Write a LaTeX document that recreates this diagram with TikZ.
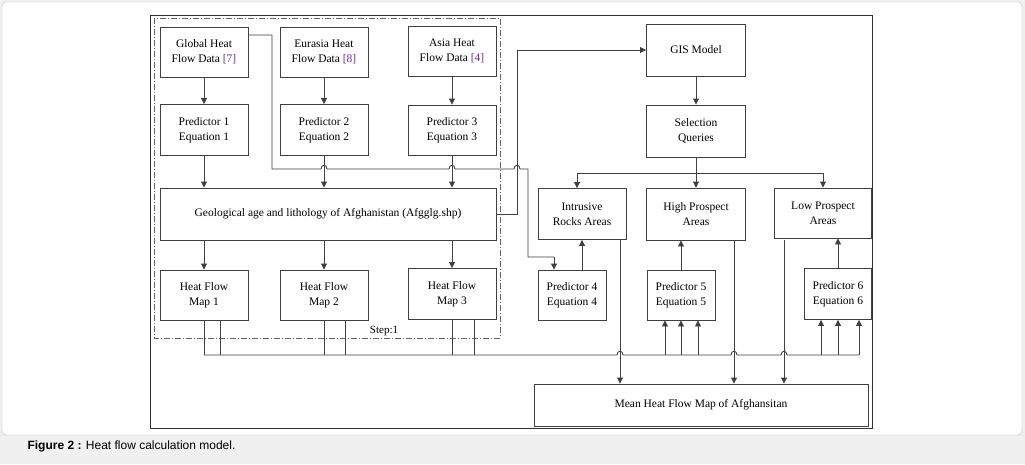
\documentclass[tikz,border=0pt]{standalone}
\usepackage{fontspec}
\setmainfont{Liberation Serif}
\newfontfamily\capfont{Liberation Sans}
\usetikzlibrary{arrows.meta}
\definecolor{refcol}{RGB}{110,40,150}
\tikzset{
  box/.style={draw=black!75, line width=0.9pt, align=center, inner sep=1pt,
    font=\fontsize{11.5}{15}\selectfont},
  line/.style={draw=black!75, line width=0.9pt},
  arr/.style={line, -{Triangle[length=6pt,width=6pt]}}
}
\begin{document}
\begin{tikzpicture}[x=1pt,y=-1pt]
  \useasboundingbox (0,0) rectangle (1025,464);
  \fill[black!6] (0,0) rectangle (1025,464);
  \draw[black!25, fill=white, rounded corners=4pt] (2,2) rectangle (1022,435);
  \draw[black!80, line width=0.8pt] (150,15) rectangle (872,428);
  \draw[black!60, line width=0.7pt, dash pattern=on 6pt off 2pt on 1pt off 2pt] (154,18) rectangle (500,338);
  \node[font=\fontsize{11}{13}\selectfont] (step) at (384,331) {Step:1};
  \node[anchor=west, font=\capfont\fontsize{12}{14}\selectfont] (cap) at (24,446) {\textbf{Figure 2 :} Heat flow calculation model.};
  % step 1 boxes
  \node[box, minimum width=88, minimum height=50] (glob) at (204,52) {Global Heat\\Flow Data {\color{refcol}[7]}};
  \node[box, minimum width=88, minimum height=50] (eur) at (324,52) {Eurasia Heat\\Flow Data {\color{refcol}[8]}};
  \node[box, minimum width=88, minimum height=50] (asia) at (452,51) {Asia Heat\\Flow Data {\color{refcol}[4]}};
  \node[box, minimum width=88, minimum height=51] (p1) at (204,130) {Predictor 1\\Equation 1};
  \node[box, minimum width=88, minimum height=51] (p2) at (324,130) {Predictor 2\\Equation 2};
  \node[box, minimum width=88, minimum height=50] (p3) at (452,130) {Predictor 3\\Equation 3};
  \node[box, minimum width=336, minimum height=52] (geo) at (328,214) {Geological age and lithology of Afghanistan (Afgglg.shp)};
  \node[box, minimum width=88, minimum height=50] (m1) at (204,295) {Heat Flow\\Map 1};
  \node[box, minimum width=88, minimum height=50] (m2) at (324,295) {Heat Flow\\Map 2};
  \node[box, minimum width=88, minimum height=51] (m3) at (452,294) {Heat Flow\\Map 3};
  % right side
  \node[box, minimum width=99, minimum height=52] (gis) at (696,50) {GIS Model};
  \node[box, minimum width=99, minimum height=52] (sel) at (696,131) {Selection\\Queries};
  \node[box, minimum width=88, minimum height=51] (intr) at (582,214) {Intrusive\\Rocks Areas};
  \node[box, minimum width=99, minimum height=52] (high) at (696,214) {High Prospect\\Areas};
  \node[box, minimum width=97, minimum height=50] (low) at (823,213) {Low Prospect\\Areas};
  \node[box, minimum width=68, minimum height=50] (p4) at (572,295) {Predictor 4\\Equation 4};
  \node[box, minimum width=68, minimum height=50] (p5) at (681,295) {Predictor 5\\Equation 5};
  \node[box, minimum width=67, minimum height=51] (p6) at (838,294) {Predictor 6\\Equation 6};
  \node[box, minimum width=334, minimum height=42] (mean) at (701,405) {Mean Heat Flow Map of Afghansitan};
  % connectors
  \draw[arr] (glob) -- (p1);
  \draw[arr] (eur) -- (p2);
  \draw[arr] (asia) -- (p3);
  \foreach \p in {p1,p2,p3} \draw[arr] (\p) -- (\p |- geo.north);
  \foreach \m in {m1,m2,m3} \draw[arr] (geo.south -| \m) -- (\m);
  \coordinate (g1) at (272,35);
  \coordinate (g2) at (528,257);
  \draw[line] (glob.east |- g1) -- (g1) -- (272,169)
    -- (321,169) .. controls (321,164) and (327,164) .. (327,169)
    -- (449,169) .. controls (449,164) and (455,164) .. (455,169)
    -- (514,169) .. controls (514,164) and (520,164) .. (520,169)
    -- (528,169) -- (g2) -- (554,257);
  \draw[arr] (554,257) -- (p4.north -| 554,0);
  \coordinate (gisin) at (517,214);
  \draw[arr] (geo.east) -- (gisin) |- (gis.west);
  \draw[arr] (gis) -- (sel);
  \coordinate (br) at (696,173);
  \draw[line] (sel) -- (br);
  \draw[arr] (br) -| (intr.north -| 577,0);
  \draw[arr] (br) -| (low);
  \draw[arr] (br) -- (high);
  \draw[arr] (p4.north -| 582,0) -- (intr.south -| 582,0);
  \draw[arr] (p5) -- (p5 |- high.south);
  \draw[arr] (p6) -- (p6 |- low.south);
  \foreach \x in {620,734,784} \draw[arr] (\x,240) -- (mean.north -| \x,0);
  % bus
  \coordinate (bus) at (204,355);
  \foreach \x/\b in {204/m1,220/m1,324/m2,345/m2,452/m3,474/m3}
    \draw[line] (\b.south -| \x,0) -- (\x,355);
  \draw[line] (bus) -- (617,355) .. controls (617,350) and (623,350) .. (623,355)
    -- (731,355) .. controls (731,350) and (737,350) .. (737,355)
    -- (781,355) .. controls (781,350) and (787,350) .. (787,355)
    -- (859,355);
  \foreach \x in {665,681,698} \draw[arr] (\x,355) -- (p5.south -| \x,0);
  \foreach \x in {821,838,859} \draw[arr] (\x,355) -- (p6.south -| \x,0);
\end{tikzpicture}
\end{document}
